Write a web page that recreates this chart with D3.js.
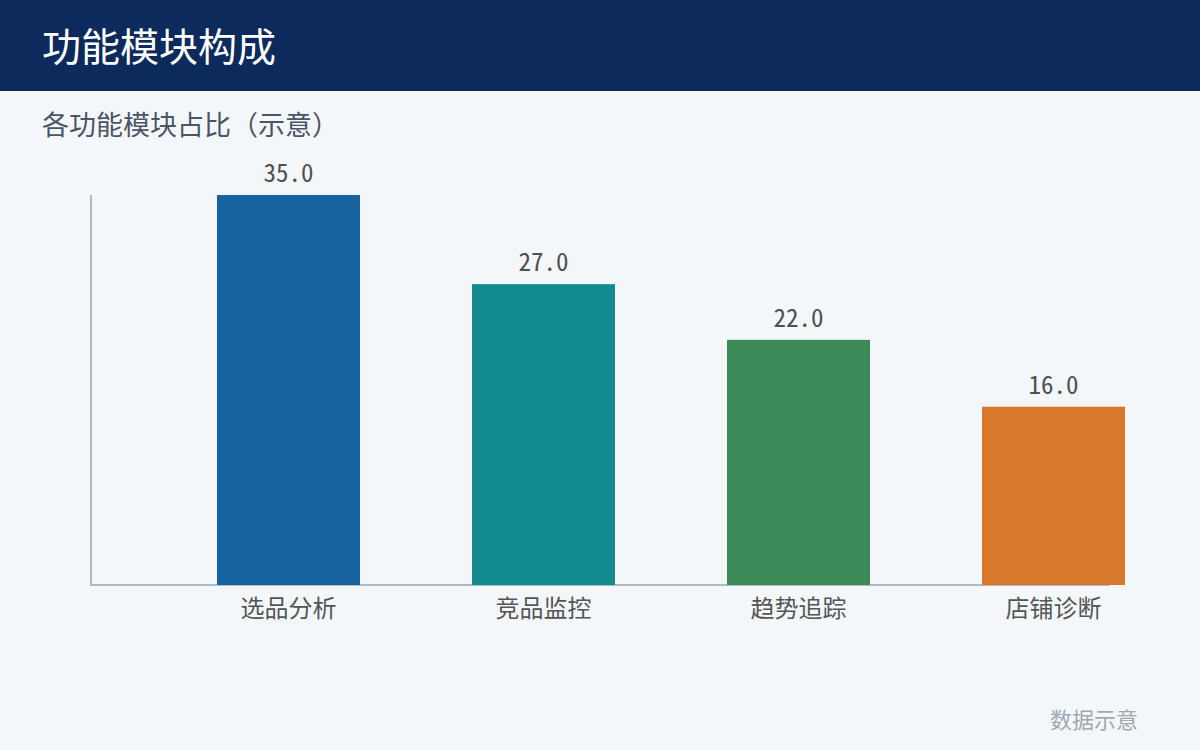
<!DOCTYPE html>
<html><head><meta charset="utf-8">
<script src="https://cdn.jsdelivr.net/npm/d3@7"></script>
<style>html,body{margin:0;padding:0;background:#f4f7fa;}svg{display:block;}</style>
</head><body>
<script>
const categories = ["选品分析", "竞品监控", "趋势追踪", "店铺诊断"];
const values = [35.0, 27.0, 22.0, 16.0];
const colors = ["#1763a0", "#128a8e", "#3b8a58", "#d9782a"];
const titleText = "功能模块构成";
const subtitleText = "各功能模块占比（示意）";
const noteText = "数据示意";

const W = 1200, H = 750;
const font = "'Noto Sans Mono CJK SC', 'Noto Sans CJK SC', 'Noto Sans', sans-serif";
const svg = d3.select("body").append("svg").attr("width", W).attr("height", H);
svg.append("rect").attr("width", W).attr("height", H).attr("fill", "#f4f7fa");
svg.append("rect").attr("width", W).attr("height", 91).attr("fill", "#0d2a5c");
svg.append("text").attr("x", 42).attr("y", 61).attr("fill", "#ffffff")
  .attr("font-family", font).attr("font-size", 39).text(titleText);
svg.append("text").attr("x", 42).attr("y", 135).attr("fill", "#4a5566")
  .attr("font-family", font).attr("font-size", 27).text(subtitleText);

const x = d3.scaleBand().domain(categories).range([91, 1251]).paddingInner(0.4392).paddingOuter(0.494);
const y = d3.scaleLinear().domain([0, 35]).range([585, 195]);

svg.append("line").attr("x1", 91).attr("x2", 91).attr("y1", 195).attr("y2", 585)
  .attr("stroke", "#b0bac6").attr("stroke-width", 2);
svg.append("line").attr("x1", 90).attr("x2", 1110).attr("y1", 585).attr("y2", 585)
  .attr("stroke", "#b0bac6").attr("stroke-width", 2);

svg.selectAll("rect.bar").data(values).enter().append("rect").attr("class", "bar")
  .attr("x", (d, i) => x(categories[i])).attr("width", x.bandwidth())
  .attr("y", d => y(d)).attr("height", d => y(0) - y(d))
  .attr("fill", (d, i) => colors[i]);

svg.selectAll("text.val").data(values).enter().append("text").attr("class", "val")
  .attr("x", (d, i) => x(categories[i]) + x.bandwidth() / 2)
  .attr("y", d => y(d) - 13).attr("text-anchor", "middle")
  .attr("font-family", font).attr("font-size", 25).attr("fill", "#505050")
  .text(d => d.toFixed(1));

svg.selectAll("text.cat").data(categories).enter().append("text").attr("class", "cat")
  .attr("x", d => x(d) + x.bandwidth() / 2).attr("y", 617).attr("text-anchor", "middle")
  .attr("font-family", font).attr("font-size", 24).attr("fill", "#555555").text(d => d);

svg.append("text").attr("x", 1138).attr("y", 728).attr("text-anchor", "end")
  .attr("font-family", font).attr("font-size", 22).attr("fill", "#a0a8b4").text(noteText);
</script>
</body></html>
